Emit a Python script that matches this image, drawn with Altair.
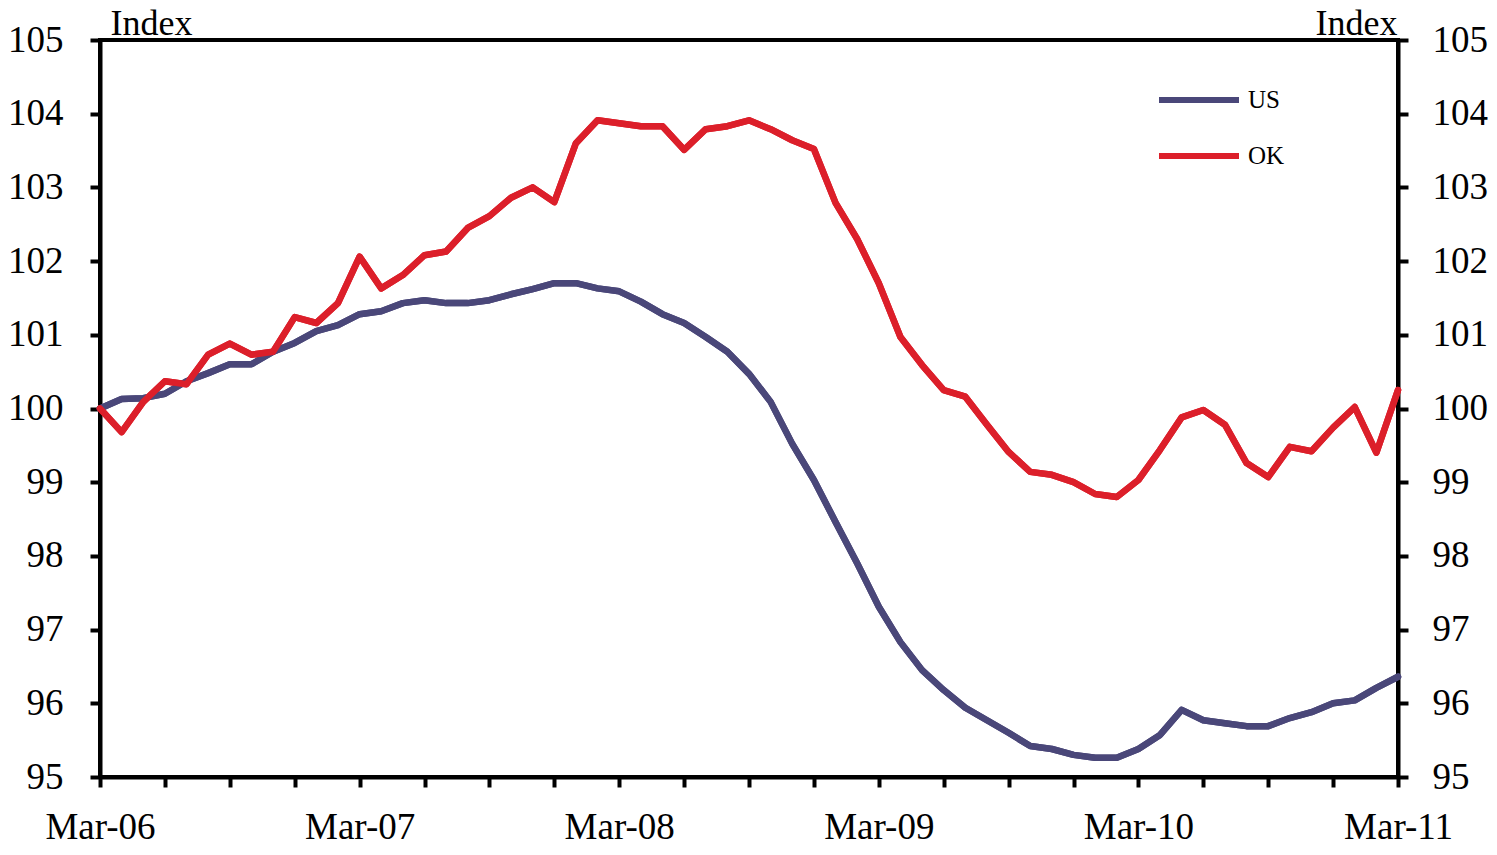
import altair as alt
import pandas as pd

tick_labels = ["Mar-06", "Mar-07", "Mar-08", "Mar-09", "Mar-10", "Mar-11"]
month_index = list(range(61))

us = [100.0, 100.13, 100.14, 100.2, 100.37, 100.48, 100.6, 100.6, 100.77, 100.89,
      101.05, 101.13, 101.28, 101.32, 101.43, 101.47, 101.43, 101.43, 101.47, 101.55,
      101.62, 101.7, 101.7, 101.63, 101.59, 101.45, 101.28, 101.16, 100.97, 100.77,
      100.47, 100.09, 99.52, 99.03, 98.46, 97.9, 97.31, 96.83, 96.45, 96.18,
      95.94, 95.77, 95.6, 95.42, 95.38, 95.3, 95.26, 95.26, 95.38, 95.57,
      95.91, 95.77, 95.73, 95.69, 95.69, 95.8, 95.88, 96.0, 96.04, 96.21, 96.36]

ok = [100.0, 99.68, 100.09, 100.37, 100.33, 100.73, 100.88, 100.73, 100.77, 101.24,
      101.16, 101.43, 102.06, 101.63, 101.81, 102.08, 102.13, 102.45, 102.61, 102.86,
      103.0, 102.8, 103.6, 103.91, 103.87, 103.83, 103.83, 103.51, 103.79, 103.83,
      103.91, 103.79, 103.64, 103.52, 102.79, 102.3, 101.7, 100.97, 100.59, 100.25,
      100.16, 99.78, 99.41, 99.14, 99.1, 99.0, 98.84, 98.8, 99.03, 99.44,
      99.88, 99.98, 99.78, 99.26, 99.07, 99.48, 99.42, 99.74, 100.02, 99.4, 100.25]

series_names = ["US", "OK"]
series_colors = ["#4A4779", "#DC1F2A"]

df = pd.DataFrame({
    "m": month_index * 2,
    "value": us + ok,
    "series": [series_names[0]] * len(us) + [series_names[1]] * len(ok),
})

FONT = "Liberation Serif"
label_expr = "datum.value % 12 == 0 ? " + str(tick_labels) + "[datum.value / 12] : ''"

x_enc = alt.X(
    "m:Q",
    scale=alt.Scale(domain=[0, 60], nice=False, zero=False),
    axis=alt.Axis(
        values=list(range(0, 61, 3)), labelExpr=label_expr, title=None, grid=False,
        tickSize=10, tickWidth=4, domainWidth=4, domainColor="black", tickColor="black",
        labelFont=FONT, labelFontSize=37, labelPadding=22, labelColor="black",
        labelFlush=False, labelOverlap=False,
    ),
)

def y_enc(orient):
    right = orient == "right"
    return alt.Y(
        "value:Q",
        scale=alt.Scale(domain=[95, 105], nice=False, zero=False),
        axis=alt.Axis(
            orient=orient, values=list(range(95, 106)), grid=False,
            title="Index", titleAngle=0, titleX=(-1 if right else 10), titleY=-6,
            titleAlign=("right" if right else "left"), titleBaseline="alphabetic",
            titleFont=FONT, titleFontSize=36, titleFontWeight="normal", titleColor="black",
            tickSize=10, tickWidth=4, domainWidth=4, domainColor="black", tickColor="black",
            labelFont=FONT, labelFontSize=37, labelPadding=(24 if right else 27),
            labelColor="black", labelFlush=False, labelOverlap=False,
        ),
    )

color_enc = alt.Color(
    "series:N",
    scale=alt.Scale(domain=series_names, range=series_colors),
    legend=alt.Legend(
        orient="none", legendX=1056, legendY=17, title=None, symbolType="stroke",
        symbolSize=6400, symbolStrokeWidth=6, labelFont=FONT, labelFontSize=25,
        labelColor="black", labelOffset=6, padding=0, rowPadding=-25,
    ),
)

base = alt.Chart(df).mark_line(strokeWidth=6.5, strokeCap="round", strokeJoin="round")

left = base.encode(x=x_enc, y=y_enc("left"), color=color_enc)
right = base.encode(x=x_enc, y=y_enc("right"), color=color_enc)

chart = (
    alt.layer(left, right)
    .resolve_scale(y="shared")
    .resolve_axis(y="independent")
    .properties(
        width=1298, height=737,
        autosize=alt.AutoSizeParams(type="none"),
        padding={"left": 92, "top": 32, "right": 90, "bottom": 70},
    )
    .configure_view(stroke="black", strokeWidth=4)
)

chart.save("out.html", embed_options={"renderer": "svg", "actions": False})
